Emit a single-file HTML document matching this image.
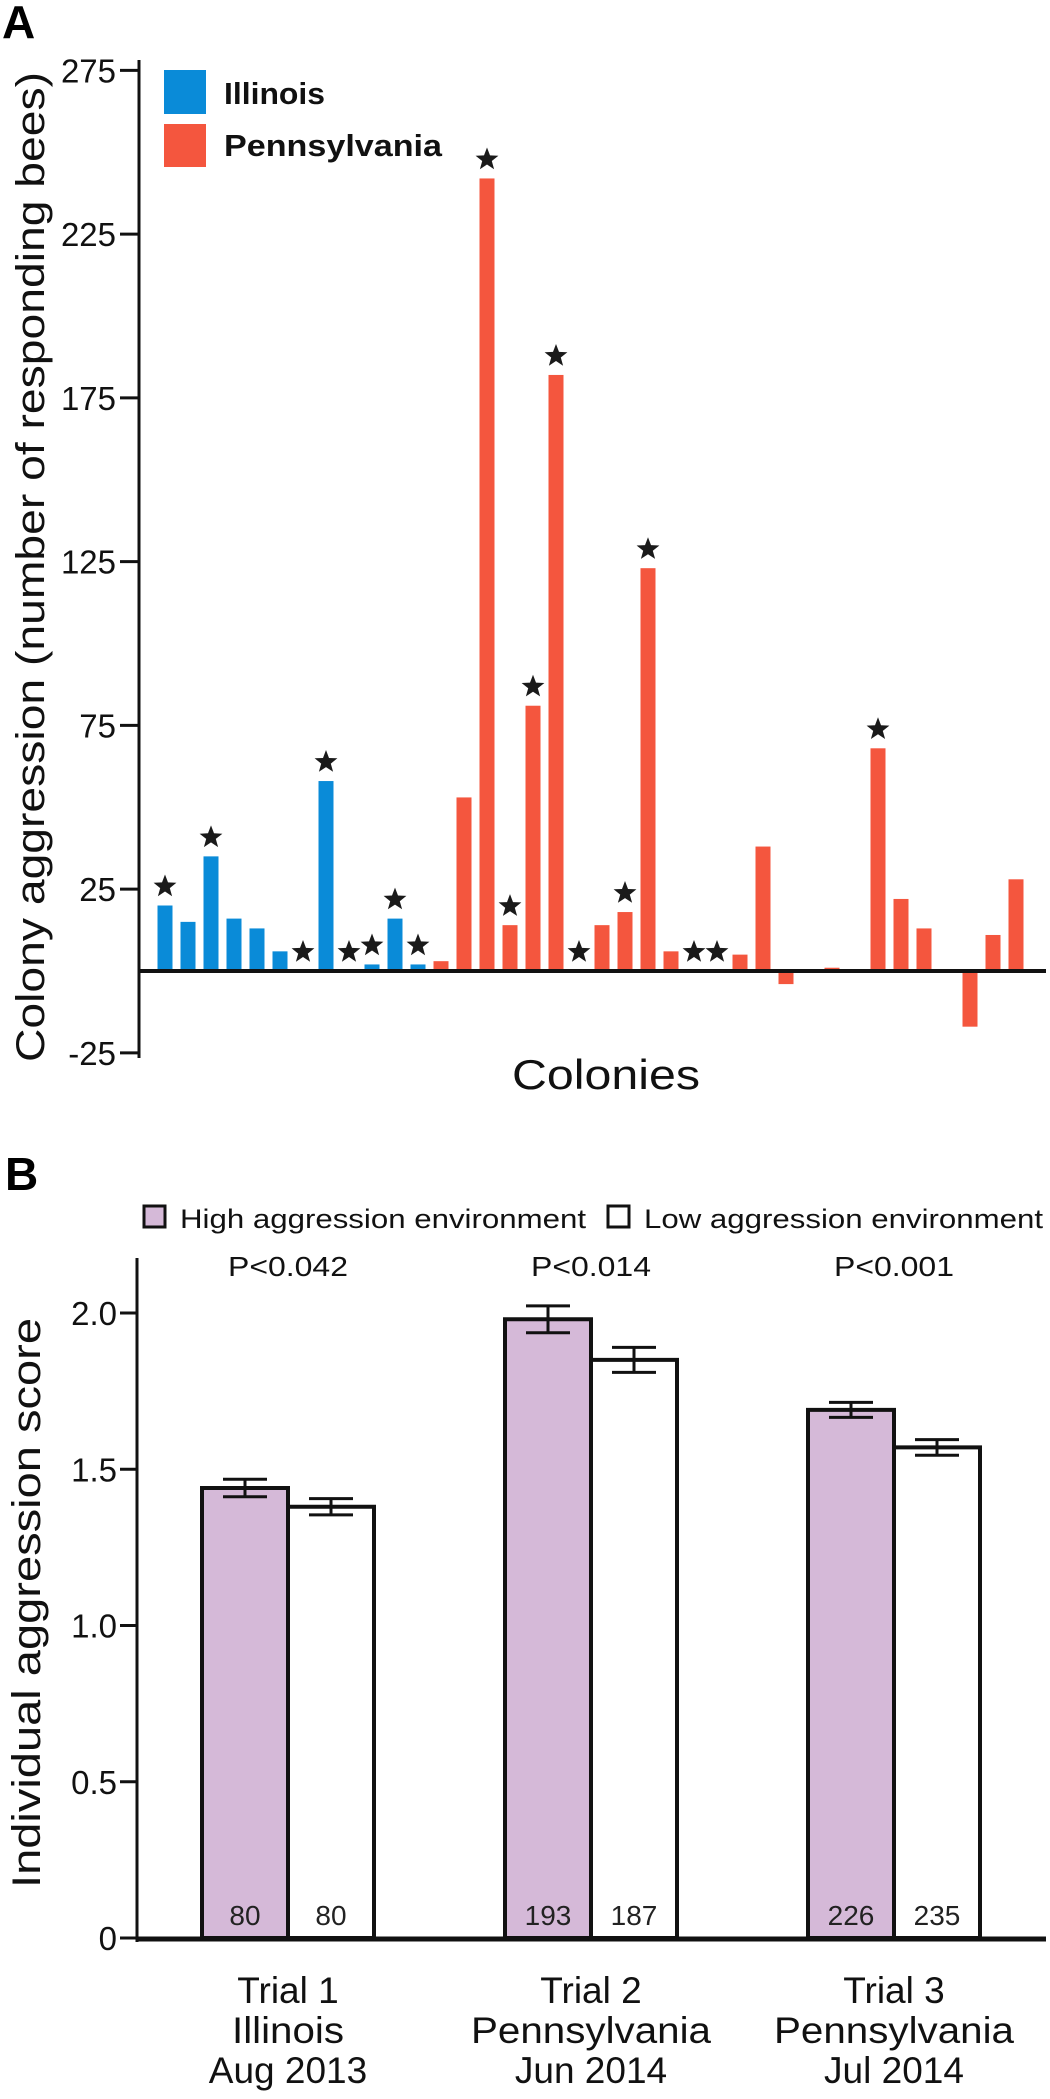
<!DOCTYPE html>
<html><head><meta charset="utf-8"><style>
html,body{margin:0;padding:0;background:#fff;}
svg{display:block;font-family:"Liberation Sans",Arial,sans-serif;}
</style></head><body>
<svg id="chart" width="1050" height="2099" viewBox="0 0 1050 2099" xmlns="http://www.w3.org/2000/svg">
<text x="2" y="38" font-size="46" font-weight="bold">A</text>
<text x="5" y="1190" font-size="46" font-weight="bold">B</text>
<g id="pa"></g>
<g id="pb"></g>
</svg>
<script>
// ---- Panel A data ----
const colonyRegion = ["IL","IL","IL","IL","IL","IL","IL","IL","IL","IL","IL","IL","PA","PA","PA","PA","PA","PA","PA","PA","PA","PA","PA","PA","PA","PA","PA","PA","PA","PA","PA","PA","PA","PA","PA","PA","PA","PA"];
const colonyValues = [20,15,35,16,13,6,0,58,0,2,16,2,3,53,242,14,81,182,0,14,18,123,6,0,0,5,38,-4,0,1,0,68,22,13,0,-17,11,28];
const colonySignificant = [1,0,1,0,0,0,1,1,1,1,1,1,0,0,1,1,1,1,1,0,1,1,0,1,1,0,0,0,0,0,0,1,0,0,0,0,0,0];
const aTicks = [275,225,175,125,75,25,-25];
// ---- Panel B data ----
const trials = ["Trial 1","Trial 2","Trial 3"];
const trialSites = ["Illinois","Pennsylvania","Pennsylvania"];
const trialDates = ["Aug 2013","Jun 2014","Jul 2014"];
const highMeans = [1.44,1.98,1.69];
const highErr = [0.028,0.043,0.024];
const lowMeans = [1.38,1.85,1.57];
const lowErr = [0.026,0.04,0.025];
const highN = [80,193,226];
const lowN = [80,187,235];
const pValues = ["P<0.042","P<0.014","P<0.001"];
const bTicks = [0,0.5,1.0,1.5,2.0];
const bTickLabels = ["0","0.5","1.0","1.5","2.0"];

const NS="http://www.w3.org/2000/svg";
function mk(parent,tag,attrs,text){const e=document.createElementNS(NS,tag);for(const k in attrs)e.setAttribute(k,attrs[k]);if(text!==undefined)e.textContent=text;parent.appendChild(e);return e;}
function starPath(cx,cy,R){const r=R*0.42;let d="";for(let i=0;i<10;i++){const a=-Math.PI/2+i*Math.PI/5;const rr=i%2?r:R;d+=(i?"L":"M")+(cx+rr*Math.cos(a)).toFixed(1)+","+(cy+rr*Math.sin(a)).toFixed(1);}return d+"Z";}

// Panel A
const pa=document.getElementById('pa');
const ay=v=>971-v*3.275;
const ax=i=>165+i*23.0;
let e;
e=mk(pa,'line',{x1:139,y1:60,x2:139,y2:1058,stroke:'#111','stroke-width':3});


aTicks.forEach(t=>{
  e=mk(pa,'line',{x1:120,y1:ay(t),x2:139,y2:ay(t),stroke:'#111','stroke-width':3});
  
  
  e=mk(pa,'text',{x:116,y:ay(t)+12,'font-size':33,'text-anchor':'end',fill:'#111'},String(t));
  
  
});
colonyValues.forEach((v,i)=>{
  const top=Math.min(ay(v),ay(0)), h=Math.abs(ay(v)-ay(0));
  if(v!==0){
    e=mk(pa,'rect',{x:ax(i)-7.5,y:top,width:15,height:h,fill:colonyRegion[i]==="IL"?'#0a8bd8':'#f4563e'});
    
    
  }
  if(colonySignificant[i]){
    const sy=ay(Math.max(v,0))-19;
    e=mk(pa,'path',{d:starPath(ax(i),sy,12),fill:'#1a1a1a'});
    
    
  }
});
e=mk(pa,'line',{x1:139,y1:ay(0),x2:1046,y2:ay(0),stroke:'#111','stroke-width':4});


e=mk(pa,'text',{x:0,y:0,'font-size':40,'text-anchor':'middle',transform:'translate(44,567) rotate(-90)',textLength:990,lengthAdjust:'spacingAndGlyphs',fill:'#111'},'Colony aggression (number of responding bees)');


e=mk(pa,'text',{x:606,y:1089,'font-size':42,'text-anchor':'middle',textLength:188,lengthAdjust:'spacingAndGlyphs',fill:'#111'},'Colonies');


e=mk(pa,'rect',{x:164,y:70,width:42,height:44,fill:'#0a8bd8'});


e=mk(pa,'rect',{x:164,y:124,width:42,height:43,fill:'#f4563e'});


e=mk(pa,'text',{x:224,y:104,'font-size':31,'font-weight':'bold',textLength:101,lengthAdjust:'spacingAndGlyphs',fill:'#111'},'Illinois');


e=mk(pa,'text',{x:224,y:156,'font-size':31,'font-weight':'bold',textLength:218,lengthAdjust:'spacingAndGlyphs',fill:'#111'},'Pennsylvania');



// Panel B
const pb=document.getElementById('pb');
const by=v=>1938-v*312.5;
const groupCenter=[288,591,894];
const bw=86;
e=mk(pb,'line',{x1:137,y1:1258,x2:137,y2:1942,stroke:'#111','stroke-width':3});


bTicks.forEach((t,i)=>{
  e=mk(pb,'line',{x1:120,y1:by(t),x2:137,y2:by(t),stroke:'#111','stroke-width':3});
  
  
  e=mk(pb,'text',{x:117,y:by(t)+12,'font-size':33,'text-anchor':'end',fill:'#111'},bTickLabels[i]);
  
  
});
function drawBar(x,mean,err,fill,n,nm){
  e=mk(pb,'rect',{x:x,y:by(mean),width:bw,height:by(0)-by(mean),fill:fill,stroke:'#111','stroke-width':4});
  
  
  const cx=x+bw/2;
  e=mk(pb,'path',{d:`M${cx},${by(mean+err)}V${by(mean-err)}M${cx-22},${by(mean+err)}H${cx+22}M${cx-22},${by(mean-err)}H${cx+22}`,stroke:'#111','stroke-width':3,fill:'none'});
  
  
  e=mk(pb,'text',{x:cx,y:1925,'font-size':28,'text-anchor':'middle',fill:'#222'},String(n));
  
  
}
trials.forEach((t,i)=>{
  const c=groupCenter[i];
  drawBar(c-bw,highMeans[i],highErr[i],'#d5b9d8',highN[i],'high-aggression-bar');
  drawBar(c,lowMeans[i],lowErr[i],'#ffffff',lowN[i],'low-aggression-bar');
  e=mk(pb,'text',{x:c,y:1276,'font-size':28,'text-anchor':'middle',textLength:120,lengthAdjust:'spacingAndGlyphs',fill:'#111'},pValues[i]);
  
  
  e=mk(pb,'text',{x:c,y:2003,'font-size':37,'text-anchor':'middle',fill:'#111'},t);
  
  
  e=mk(pb,'text',{x:c,y:2043,'font-size':37,'text-anchor':'middle',fill:'#111',textLength:trialSites[i]==="Illinois"?112:240,lengthAdjust:'spacingAndGlyphs'},trialSites[i]);
  
  
  e=mk(pb,'text',{x:c,y:2083,'font-size':37,'text-anchor':'middle',fill:'#111'},trialDates[i]);
  
  
});
e=mk(pb,'line',{x1:137,y1:1939,x2:1046,y2:1939,stroke:'#111','stroke-width':5});


e=mk(pb,'text',{x:0,y:0,'font-size':40,'text-anchor':'middle',transform:'translate(40,1603) rotate(-90)',textLength:570,lengthAdjust:'spacingAndGlyphs',fill:'#111'},'Individual aggression score');


e=mk(pb,'rect',{x:144,y:1206,width:21,height:21,fill:'#d5b9d8',stroke:'#111','stroke-width':3});


e=mk(pb,'text',{x:180,y:1228,'font-size':27,textLength:406,lengthAdjust:'spacingAndGlyphs',fill:'#111'},'High aggression environment');


e=mk(pb,'rect',{x:608,y:1206,width:21,height:21,fill:'#fff',stroke:'#111','stroke-width':3});


e=mk(pb,'text',{x:644,y:1228,'font-size':27,textLength:399,lengthAdjust:'spacingAndGlyphs',fill:'#111'},'Low aggression environment');


</script>
</body></html>
